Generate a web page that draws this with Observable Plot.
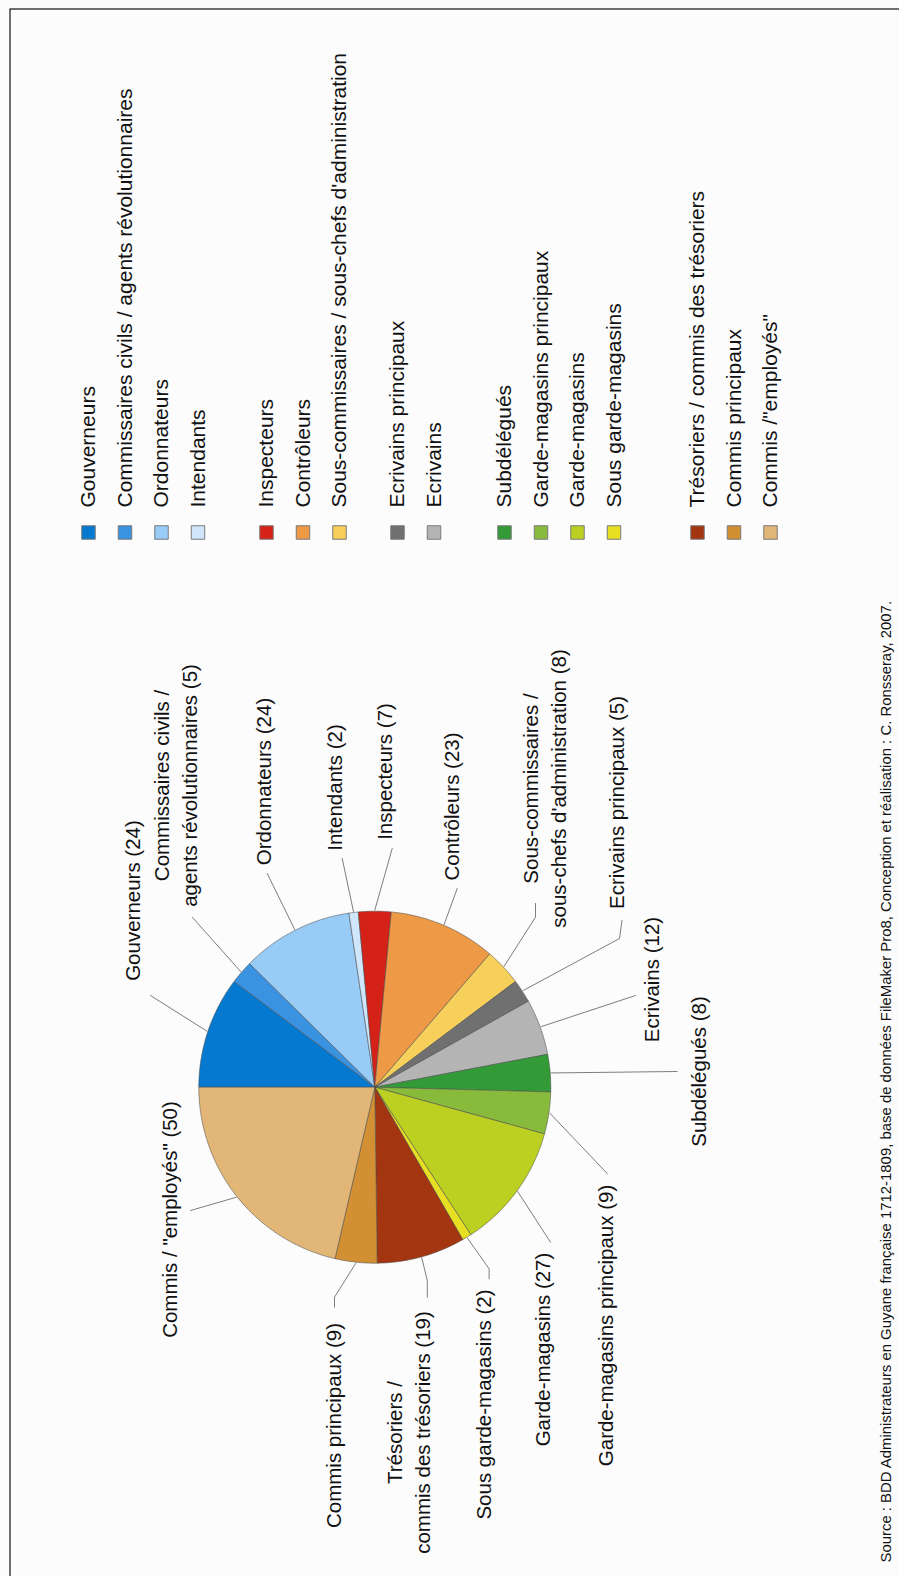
<!DOCTYPE html>
<html>
<head>
<meta charset="utf-8">
<script src="https://cdn.jsdelivr.net/npm/d3@7"></script>
<script src="https://cdn.jsdelivr.net/npm/@observablehq/plot@0.6"></script>
<style>
  body { margin: 0; background: #fcfcfc; }
  #chart svg { display: block; }
</style>
</head>
<body>
<div id="chart"></div>
<script>
// ---------------- DATA ----------------
const categories = [
  "Gouverneurs",
  "Commissaires civils / agents révolutionnaires",
  "Ordonnateurs",
  "Intendants",
  "Inspecteurs",
  "Contrôleurs",
  "Sous-commissaires / sous-chefs d'administration",
  "Ecrivains principaux",
  "Ecrivains",
  "Subdélégués",
  "Garde-magasins principaux",
  "Garde-magasins",
  "Sous garde-magasins",
  "Trésoriers / commis des trésoriers",
  "Commis principaux",
  "Commis /\"employés\""
];
const counts = [24, 5, 24, 2, 7, 23, 8, 5, 12, 8, 9, 27, 2, 19, 9, 50];
const colors = [
  "#0578cf", "#3a93e0", "#99cbf7", "#cfe6fb",
  "#d42219", "#ee9946", "#f6d05a",
  "#707070", "#b4b4b4",
  "#339a38", "#88bb3b", "#bcd022", "#e6df22",
  "#a33611", "#d38f33", "#e2b677"
];
const pieLabelNames = [
  "Gouverneurs",
  "Commissaires civils /\nagents révolutionnaires",
  "Ordonnateurs",
  "Intendants",
  "Inspecteurs",
  "Contrôleurs",
  "Sous-commissaires /\nsous-chefs d'administration",
  "Ecrivains principaux",
  "Ecrivains",
  "Subdélégués",
  "Garde-magasins principaux",
  "Garde-magasins",
  "Sous garde-magasins",
  "Trésoriers /\ncommis des trésoriers",
  "Commis principaux",
  "Commis / \"employés\""
];
const legendGroups = [0, 0, 0, 0, 1, 1, 1, 2, 2, 3, 3, 3, 3, 4, 4, 4];
const caption = "Source : BDD Administrateurs en Guyane française 1712-1809, base de données FileMaker Pro8, Conception et réalisation : C. Ronsseray, 2007.";

// ---------------- LAYOUT ----------------
const W = 899, H = 1576;
const FONT = "'Liberation Sans', Arial, Helvetica, sans-serif";
const cx = 374.3, cy = 1086.7, R = 176;
// label centres (rotated text)
const labelPos = [
  [131, 900], [173.5, 785], [262, 781], [333, 787], [383, 771], [450, 806],
  [542.5, 788], [615, 802], [650, 979], [697, 1071], [604, 1325], [541, 1349],
  [482, 1404], [407, 1432], [332, 1425], [168, 1219]
];
// leader points after the start on the slice edge
const leaderPts = [
  [[150, 995]],
  [[192, 917]],
  [[266.7, 873]],
  [[341.7, 858]],
  [[391.7, 848]],
  [[456.7, 888]],
  [[535, 916.7], [535, 903]],
  [[619, 938], [621.5, 920]],
  [[635, 995]],
  [[676.7, 1071]],
  [[606.7, 1173]],
  [[550, 1241.7]],
  [[488.6, 1268.3], [488.6, 1278.3]],
  [[426.8, 1280], [426.8, 1296.7]],
  [[334, 1296.7], [334, 1306.7]],
  [[190, 1210]]
];
const legendGroupStart = [88, 266, 397, 504, 697];
const legendStep = 36.5;
const legendSquareY = 532, legendTextY = 507;

// ---------------- GEOMETRY FROM DATA ----------------
const arcs = d3.pie().sort(null).value(d => d)
  .startAngle(-Math.PI / 2).endAngle(3 * Math.PI / 2)(counts);

const polar = (a, r) => ({x: cx + r * Math.sin(a), y: cy - r * Math.cos(a)});

const slicePts = [];
arcs.forEach((a, i) => {
  slicePts.push({i, ...polar(0, 0)});
  const n = Math.max(2, Math.ceil((a.endAngle - a.startAngle) / (Math.PI / 360)));
  for (let k = 0; k <= n; k++) {
    const t = a.startAngle + (a.endAngle - a.startAngle) * k / n;
    slicePts.push({i, ...polar(t, R)});
  }
  slicePts.push({i, ...polar(0, 0)});
});

const leaderData = [];
arcs.forEach((a, i) => {
  const mid = (a.startAngle + a.endAngle) / 2;
  leaderData.push({i, ...polar(mid, R + 1)});
  leaderPts[i].forEach(([x, y]) => leaderData.push({i, x, y}));
});

const labelData = counts.map((c, i) => ({
  x: labelPos[i][0], y: labelPos[i][1],
  text: `${pieLabelNames[i]} (${c})`
}));

let seen = {};
const legendData = categories.map((name, i) => {
  const g = legendGroups[i];
  seen[g] = (seen[g] ?? -1) + 1;
  return {name, color: colors[i], x: legendGroupStart[g] + legendStep * seen[g]};
});

// ---------------- PLOT ----------------
const chart = Plot.plot({
  width: W, height: H,
  margin: 0,
  style: {background: "#fcfcfc", fontFamily: FONT, color: "#111"},
  x: {type: "linear", domain: [0, W], range: [0, W], axis: null},
  y: {type: "linear", domain: [0, H], range: [0, H], axis: null},
  color: {type: "identity"},
  marks: [
    Plot.frame({stroke: "#111", strokeWidth: 1.2, insetLeft: 9.5, insetTop: 8.5, insetRight: -20, insetBottom: -20}),
    // pie slices
    Plot.line(slicePts, {
      x: "x", y: "y", z: "i",
      fill: d => colors[d.i],
      stroke: "#4a4a4a", strokeWidth: 0.6, strokeOpacity: 0.9,
      curve: "linear-closed"
    }),
    // leader lines
    Plot.line(leaderData, {x: "x", y: "y", z: "i", stroke: "#6e6e6e", strokeWidth: 0.9}),
    // pie labels
    Plot.text(labelData, {
      x: "x", y: "y", text: "text", rotate: -90,
      textAnchor: "middle", lineAnchor: "middle",
      fontSize: 20.5, lineHeight: 1.36, fill: "#111"
    }),
    // legend squares
    Plot.dot(legendData, {
      x: "x", y: () => legendSquareY, symbol: "square", r: 7.6,
      fill: "color", stroke: "#7a7a7a", strokeWidth: 1
    }),
    // legend text
    Plot.text(legendData, {
      x: "x", y: () => legendTextY, text: "name", rotate: -90,
      textAnchor: "start", lineAnchor: "middle",
      fontSize: 21, fill: "#111"
    }),
    // caption
    Plot.text([caption], {
      x: () => 886, y: () => 1562, text: d => d, rotate: -90,
      textAnchor: "start", lineAnchor: "middle",
      fontSize: 14.9, fill: "#111"
    })
  ]
});
document.getElementById("chart").appendChild(chart);
</script>
</body>
</html>
